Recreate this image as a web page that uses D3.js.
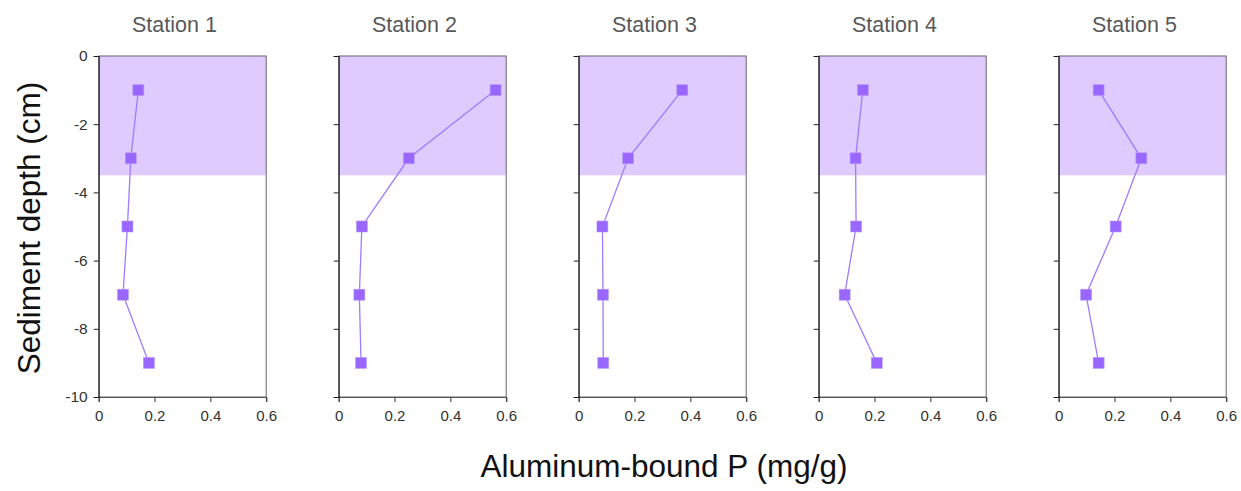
<!DOCTYPE html>
<html>
<head>
<meta charset="utf-8">
<script src="https://cdn.jsdelivr.net/npm/d3@7"></script>
<style>
  body { margin: 0; background: #fff; }
  text { font-family: "Liberation Sans", Arial, sans-serif; }
</style>
</head>
<body>
<svg id="chart" width="1241" height="491"></svg>
<script>
const stations = ["Station 1", "Station 2", "Station 3", "Station 4", "Station 5"];
const depths = [-1, -3, -5, -7, -9];
const station1 = [0.142, 0.115, 0.103, 0.087, 0.18];
const station2 = [0.562, 0.251, 0.083, 0.074, 0.08];
const station3 = [0.371, 0.177, 0.085, 0.087, 0.088];
const station4 = [0.158, 0.132, 0.134, 0.093, 0.208];
const station5 = [0.143, 0.296, 0.204, 0.098, 0.143];
const values = [station1, station2, station3, station4, station5];
const shadeDepth = [0, -3.5];
const xTicks = [0, 0.2, 0.4, 0.6];
const yTicks = [0, -2, -4, -6, -8, -10];

const svg = d3.select("#chart");
const panelW = 167.5, step = 240, left0 = 98.7;
const plotTop = 56, plotBottom = 397;

const y = d3.scaleLinear().domain([0, -10]).range([plotTop, plotBottom]);

stations.forEach((name, i) => {
  const x0 = left0 + i * step;
  const x = d3.scaleLinear().domain([0, 0.6]).range([x0, x0 + panelW]);
  const g = svg.append("g");

  // shaded surface layer
  g.append("rect")
    .attr("x", x(0))
    .attr("y", y(shadeDepth[0]))
    .attr("width", x(0.6) - x(0))
    .attr("height", y(shadeDepth[1]) - y(shadeDepth[0]))
    .attr("fill", "#e0cbff");

  // frame top/right
  g.append("rect")
    .attr("x", x(0)).attr("y", plotTop)
    .attr("width", x(0.6) - x(0)).attr("height", plotBottom - plotTop)
    .attr("fill", "none").attr("stroke", "#666").attr("stroke-width", 1);

  const xAxis = g.append("g")
    .attr("transform", `translate(0,${plotBottom})`)
    .call(d3.axisBottom(x).tickValues(xTicks).tickFormat(d => String(d)).tickSizeOuter(0).tickSize(5));
  xAxis.selectAll("text").attr("font-size", 15).attr("fill", "#333").attr("dy", "1.05em");
  xAxis.select(".domain").attr("stroke", "#555");
  xAxis.selectAll(".tick line").attr("stroke", "#333");

  const yAxis = g.append("g")
    .attr("transform", `translate(${x0},0)`)
    .call(d3.axisLeft(y).tickValues(yTicks).tickSizeOuter(0).tickSize(5)
      .tickFormat(i === 0 ? d => String(d) : () => ""));
  yAxis.selectAll("text").attr("font-size", 15.5).attr("fill", "#333").attr("dx", "-3");
  yAxis.select(".domain").attr("stroke", "#111");
  yAxis.selectAll(".tick line").attr("stroke", "#222");

  const pts = depths.map((d, k) => ({ d, v: values[i][k] }));
  g.append("path")
    .datum(pts)
    .attr("fill", "none")
    .attr("stroke", "#9f7bff")
    .attr("stroke-width", 1.3)
    .attr("d", d3.line().x(p => x(p.v)).y(p => y(p.d)));

  g.selectAll(".pt")
    .data(pts)
    .enter()
    .append("rect")
    .attr("x", p => x(p.v) - 5.5)
    .attr("y", p => y(p.d) - 5.5)
    .attr("width", 11)
    .attr("height", 11)
    .attr("fill", "#9966ff")
    .attr("stroke", "#b89cff")
    .attr("stroke-width", 0.6);

  g.append("text")
    .attr("x", (x(0) + x(0.6)) / 2 - 8)
    .attr("y", 32)
    .attr("text-anchor", "middle")
    .attr("font-size", 21.5)
    .attr("fill", "#595959")
    .text(name);
});

svg.append("text")
  .attr("x", 664)
  .attr("y", 477)
  .attr("text-anchor", "middle")
  .attr("font-size", 31.5)
  .attr("fill", "#111")
  .text("Aluminum-bound P (mg/g)");

svg.append("text")
  .attr("transform", "translate(40,228) rotate(-90)")
  .attr("text-anchor", "middle")
  .attr("font-size", 31.5)
  .attr("fill", "#111")
  .text("Sediment depth (cm)");
</script>
</body>
</html>
